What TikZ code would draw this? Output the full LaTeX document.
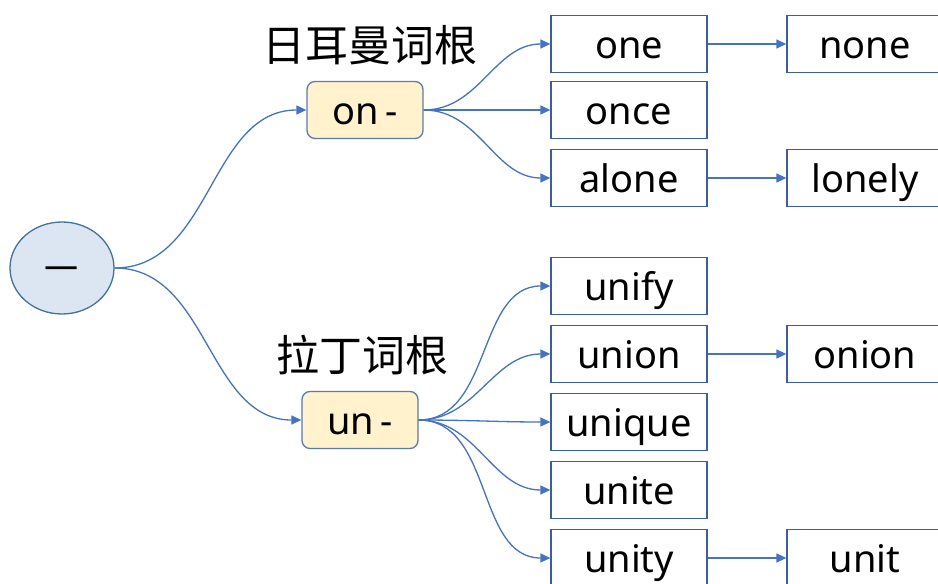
\documentclass[tikz,border=0pt]{standalone}
\usepackage{fontspec}
\setmainfont{Noto Sans}
\newfontfamily\cjkfont{Noto Sans CJK SC}
\usetikzlibrary{arrows.meta, shapes.geometric}

\definecolor{linkblue}{HTML}{4472C4}
\definecolor{boxedge}{HTML}{3A5DA8}
\definecolor{rootfill}{HTML}{DCE6F2}
\definecolor{rootedge}{HTML}{41719C}
\definecolor{prefill}{HTML}{FFF2CC}
\definecolor{preedge}{HTML}{5B7AAE}

\tikzset{
  wordbox/.style={draw=boxedge, line width=1.3pt, minimum width=156pt, minimum height=57pt,
    inner sep=0pt, text height=36pt, text depth=8pt, font=\fontsize{38}{44}\selectfont},
  prebox/.style={wordbox, draw=preedge, fill=prefill, rounded corners=8pt, minimum width=116pt},
  rootword/.style={ellipse, draw=rootedge, fill=rootfill, line width=1.3pt, inner sep=0pt,
    minimum width=104pt, minimum height=92pt, text height=0pt, text depth=0pt,
    font=\cjkfont\fontsize{34}{40}\selectfont},
  tag/.style={inner sep=0pt, font=\cjkfont\fontsize{43}{48}\selectfont},
  link/.style={linkblue, line width=1.3pt, -{Triangle[length=10pt,width=9pt]}}
}

\begin{document}
\begin{tikzpicture}[x=1pt, y=-1pt]
\useasboundingbox (0,0) rectangle (938,584);

% root and prefixes
\node[rootword] (yi) at (62,268) {\raisebox{-13pt}{一}};
\node[prebox] (on) at (365,110) {on\,-};
\node[prebox] (un) at (360,420) {un\,-};
\node[tag] (gtag) at (370,45) {日耳曼词根};
\node[tag] (ltag) at (362,355) {拉丁词根};

% on- words
\node[wordbox] (one) at (629,44) {one};
\node[wordbox] (once) at (629,110) {once};
\node[wordbox] (alone) at (629,178) {alone};
\node[wordbox] (none) at (865,44) {none};
\node[wordbox] (lonely) at (865,178) {lonely};

% un- words
\node[wordbox] (unify) at (629,286) {unify};
\node[wordbox] (union) at (629,354) {union};
\node[wordbox] (unique) at (629,422) {unique};
\node[wordbox] (unite) at (629,490) {unite};
\node[wordbox] (unity) at (629,558) {unity};
\node[wordbox] (onion) at (865,354) {onion};
\node[wordbox] (unit) at (865,558) {unit};

\draw[link] (yi.east) to[out=0, in=180] (on.west);
\draw[link] (yi.east) to[out=0, in=180] (un.west);

\draw[link] (on.east) to[out=0, in=180] (one.west);
\draw[link] (on.east) to[out=0, in=180] (once.west);
\draw[link] (on.east) to[out=0, in=180] (alone.west);

\draw[link] (un.east) to[out=0, in=180] (unify.west);
\draw[link] (un.east) to[out=0, in=180] (union.west);
\draw[link] (un.east) to[out=0, in=180] (unique.west);
\draw[link] (un.east) to[out=0, in=180] (unite.west);
\draw[link] (un.east) to[out=0, in=180] (unity.west);

\draw[link] (one.east) -- (none.west);
\draw[link] (alone.east) -- (lonely.west);
\draw[link] (union.east) -- (onion.west);
\draw[link] (unity.east) -- (unit.west);
\end{tikzpicture}
\end{document}
